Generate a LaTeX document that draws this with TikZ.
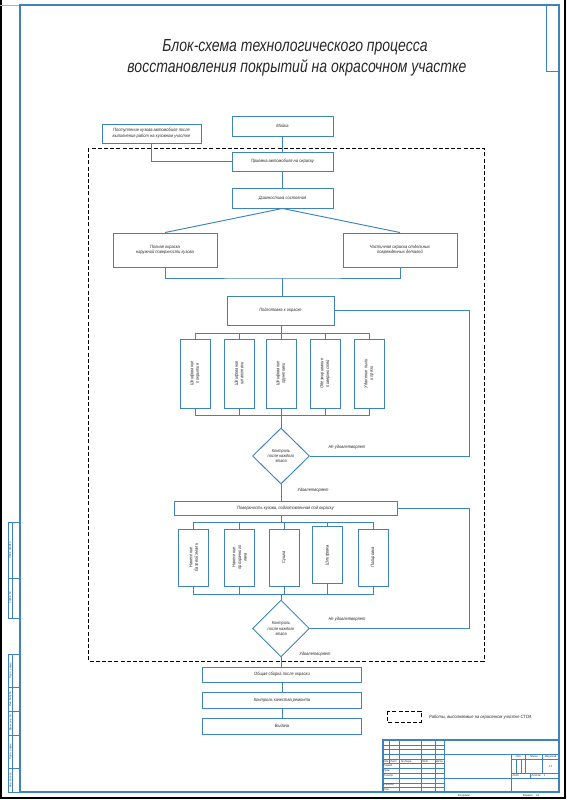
\documentclass[tikz,border=0pt]{standalone}
\usepackage{fontspec}
\setmainfont{Liberation Sans}
\newfontfamily\gost[FakeStretch=0.88]{Liberation Sans}
\newfontfamily\gostt[FakeStretch=0.8]{Liberation Sans}
\usetikzlibrary{shapes.geometric}
\definecolor{bl}{RGB}{62,132,188}
\definecolor{tx}{RGB}{40,40,40}
\tikzset{
  ln/.style={draw=bl, line width=0.95pt},
  box/.style={ln, rectangle, inner sep=0pt, align=center, text=tx,
     font=\gost\itshape\fontsize{4.6}{5.6}\selectfont},
  vbox/.style={box, minimum width=30pt},
  dia/.style={ln, diamond, inner sep=0pt, aspect=1, align=center, text=tx,
     font=\gost\itshape\fontsize{4.4}{5.2}\selectfont},
  lab/.style={inner sep=0pt, text=tx, font=\gost\itshape\fontsize{4.6}{5.6}\selectfont},
  vt/.style={rotate=90, align=center},
  thk/.style={draw=bl, line width=0.9pt},
  thn/.style={draw=bl, line width=0.45pt},
  stx/.style={inner sep=0pt, text=tx, font=\gost\itshape\fontsize{2.8}{3.2}\selectfont},
  dsh/.style={draw=black, line width=0.9pt, dash pattern=on 4pt off 2.2pt},
  ttl/.style={inner sep=0pt, text=tx, font=\gostt\itshape\fontsize{17.5}{20}\selectfont},
}
\begin{document}
\begin{tikzpicture}[x=1pt,y=-1pt]
\useasboundingbox (0,0) rectangle (566,800);
% sheet edges
\draw[black, line width=1.2pt] (1,0) -- (1,798) -- (565,798) -- (565,0);
\draw[gray!60, line width=0.5pt] (0,5) -- (20,5);
% frame
\draw[thk, line width=1.2pt] (20,5) rectangle (559,792);
\draw[thk] (546,5) rectangle (559,71);
% left stamps
\draw[thk] (8,522) rectangle (19,618);
\draw[thn] (8,578) -- (19,578) (12.5,522) -- (12.5,618);
\draw[thk] (8,654) rectangle (19,792);
\draw[thn] (8,687) -- (19,687) (8,711) -- (19,711) (8,735) -- (19,735) (8,768) -- (19,768) (12.5,654) -- (12.5,792);
\node[stx, rotate=90] (s1) at (10.3,550) {Перв. примен.};
\node[stx, rotate=90] (s2) at (10.3,598) {Справ. №};
\node[stx, rotate=90] (s3) at (10.3,670.5) {Подп. и дата};
\node[stx, rotate=90] (s4) at (10.3,699) {Инв. № дубл.};
\node[stx, rotate=90] (s5) at (10.3,723) {Взам. инв. №};
\node[stx, rotate=90] (s6) at (10.3,751.5) {Подп. и дата};
\node[stx, rotate=90] (s7) at (10.3,780) {Инв. № подл.};

% title
\node[ttl] (t1) at (295,47) {Блок-схема технологического процесса};
\node[ttl] (t2) at (297,68) {восстановления покрытий на окрасочном участке};

% dashed area
\draw[dsh] (88,148) rectangle (484,661);

% boxes
\node[box, minimum width=101pt, minimum height=20pt] (moika) at (282.5,126) {Мойка};
\node[box, minimum width=99pt, minimum height=19pt] (post) at (151.5,133.5) {Поступление кузова автомобиля после\\выполнения работ на кузовном участке};
\node[box, minimum width=101pt, minimum height=19pt] (priem) at (282.5,161.5) {Приемка автомобиля на окраску};
\node[box, minimum width=101pt, minimum height=20pt] (diag) at (282.5,198) {Диагностика состояния};
\node[box, minimum width=104pt, minimum height=34pt] (full) at (165,250) {Полная окраска\\наружной поверхности кузова};
\node[box, minimum width=114pt, minimum height=34pt] (part) at (400,250) {Частичная окраска отдельных\\поврежденных деталей};
\node[box, minimum width=107pt, minimum height=29pt] (podg) at (280.5,310.5) {Подготовка к окраске};

\node[vbox, minimum height=69pt] (v1) at (195,373.5) {};
\node[vbox, minimum height=69pt] (v2) at (239,373.5) {};
\node[vbox, minimum height=69pt] (v3) at (281,373.5) {};
\node[vbox, minimum height=69pt] (v4) at (325,373.5) {};
\node[vbox, minimum height=69pt] (v5) at (369,373.5) {};
\node[lab, vt] (v1t) at (v1) {Шлифование\\покрытия};
\node[lab, vt] (v2t) at (v2) {Шлифование\\шпатлевки};
\node[lab, vt] (v3t) at (v3) {Шлифование\\грунтовки};
\node[lab, vt] (v4t) at (v4) {Обезжиривание\\поверхностей};
\node[lab, vt] (v5t) at (v5) {Удаление пыли\\и грязи};

\node[dia, minimum width=57pt, minimum height=56pt] (k1) at (281,456) {Контроль\\после каждого\\этапа};

\node[box, minimum width=223pt, minimum height=14pt] (wide) at (285.5,508) {Поверхность кузова, подготовленная под окраску};

\node[vbox, minimum height=57pt] (w1) at (193.5,557.5) {};
\node[vbox, minimum height=57pt] (w2) at (239.5,557.5) {};
\node[vbox, minimum height=57pt] (w3) at (284,557.5) {};
\node[vbox, minimum height=57pt] (w4) at (327.5,555) {};
\node[vbox, minimum height=57pt] (w5) at (373,557.5) {};
\node[lab, vt] (w1t) at (w1) {Нанесение\\базовой эмали};
\node[lab, vt] (w2t) at (w2) {Нанесение\\прозрачного\\лака};
\node[lab, vt] (w3t) at (w3) {Сушка};
\node[lab, vt] (w4t) at (w4) {Шлифовка};
\node[lab, vt] (w5t) at (w5) {Полировка};

\node[dia, minimum width=57pt, minimum height=57pt] (k2) at (281,628.5) {Контроль\\после каждого\\этапа};

\node[box, minimum width=159pt, minimum height=15pt] (sb) at (282,674.5) {Общая сборка после окраски};
\node[box, minimum width=159pt, minimum height=16pt] (kk) at (282,700) {Контроль качества ремонта};
\node[box, minimum width=159pt, minimum height=16pt] (vyd) at (282,726) {Выдача};

% labels
\node[lab] (n1) at (347,447) {Не удовлетворяет};
\node[lab] (y1) at (313,490) {Удовлетворяет};
\node[lab] (n2) at (347,619) {Не удовлетворяет};
\node[lab] (y2) at (315,654) {Удовлетворяет};

% connectors
\coordinate (j1) at (282.5,278);
\coordinate (b1) at (281,333);
\coordinate (b2) at (281,415);
\coordinate (c1) at (281,522);
\coordinate (c2) at (281,594);
\coordinate (r1) at (469,0);
\draw[ln] (moika.south) -- (priem.north);
\draw[ln] (post.south) |- (priem.west);
\draw[ln] (priem.south) -- (diag.north);
\draw[ln] (diag.south) -- (full.north);
\draw[ln] (diag.south) -- (part.north);
\draw[ln] (full.south) |- (j1) -| (part.south);
\draw[ln] (j1) -- (j1 |- podg.north);
\draw[ln] (b1 |- podg.south) -- (b1);
\draw[ln] (v1.north) -- (v1.north |- b1) -- (v5.north |- b1) -- (v5.north);
\foreach \v in {v2,v3,v4} \draw[ln] (\v.north) -- (\v.north |- b1);
\draw[ln] (v1.south) -- (v1.south |- b2) -- (v5.south |- b2) -- (v5.south);
\foreach \v in {v2,v3,v4} \draw[ln] (\v.south) -- (\v.south |- b2);
\draw[ln] (b2) -- (k1.north);
\draw[ln] (k1.east) -| (r1 |- podg.east) -- (podg.east);
\draw[ln] (k1.south) -- (k1.south |- wide.north);
\draw[ln] (c1 |- wide.south) -- (c1);
\draw[ln] (w1.north) -- (w1.north |- c1) -- (w5.north |- c1) -- (w5.north);
\foreach \v in {w2,w3,w4} \draw[ln] (\v.north) -- (\v.north |- c1);
\draw[ln] (w1.south) -- (w1.south |- c2) -- (w5.south |- c2) -- (w5.south);
\foreach \v in {w2,w3,w4} \draw[ln] (\v.south) -- (\v.south |- c2);
\draw[ln] (c2) -- (k2.north);
\draw[ln] (k2.east) -| (r1 |- wide.east) -- (wide.east);
\draw[ln] (k2.south) -- (k2.south |- sb.north);
\draw[ln] (sb.south) -- (kk.north);
\draw[ln] (kk.south) -- (vyd.north);

% legend
\draw[dsh] (387,711) rectangle (421,722);
\node[lab, anchor=west] (leg) at (429,717) {Работы, выполняемые на окрасочном участке СТОА};

% title block
\foreach \k in {1,2,3,4,6,7,8,9,10} \draw[thn] (383,{740+\k*4.765}) -- (444.9,{740+\k*4.765});
\draw[thk] (383,763.8) -- (444.9,763.8) (383,759.1) -- (444.9,759.1);
\draw[thk] (389.7,740) -- (389.7,763.8);
\draw[thk] (399.2,740) -- (399.2,792);
\draw[thk] (421.1,740) -- (421.1,792);
\draw[thk] (435.4,740) -- (435.4,792);
\draw[thk] (444.9,740) -- (444.9,792);
\draw[thk] (444.9,754.3) -- (559,754.3);
\draw[thk] (511.6,754.3) -- (511.6,792);
\draw[thk] (444.9,778.1) -- (559,778.1);
\draw[thk] (511.6,759.1) -- (559,759.1) (511.6,773.4) -- (559,773.4);
\draw[thk] (525.9,754.3) -- (525.9,773.4) (542.1,754.3) -- (542.1,773.4);
\draw[thn] (516.4,759.1) -- (516.4,773.4) (521.1,759.1) -- (521.1,773.4);
\draw[thk] (530.7,773.4) -- (530.7,778.1);
\draw[thk, line width=1.1pt] (383,740) rectangle (559,792);
\node[stx, anchor=west] (h1) at (383.5,761.4) {Изм.};
\node[stx, anchor=west] (h2) at (390.2,761.4) {Лист};
\node[stx, anchor=west] (h3) at (401,761.4) {№ докум.};
\node[stx, anchor=west] (h4) at (422,761.4) {Подп.};
\node[stx, anchor=west] (h5) at (436,761.4) {Дата};
\node[stx, anchor=west] (r1t) at (383.5,766.2) {Разраб.};
\node[stx, anchor=west] (r2t) at (383.5,771) {Пров.};
\node[stx, anchor=west] (r3t) at (383.5,775.7) {Т.контр.};
\node[stx, anchor=west] (r5t) at (383.5,785.3) {Н.контр.};
\node[stx, anchor=west] (r6t) at (383.5,790) {Утв.};
\node[stx] (l1) at (518.7,756.7) {Лит.};
\node[stx] (l2) at (534,756.7) {Масса};
\node[stx] (l3) at (550.5,756.7) {Масштаб};
\node[stx] (l4) at (550.5,766.2) {1:1};
\node[stx, anchor=west] (l5) at (512.5,775.8) {Лист};
\node[stx, anchor=west] (l6) at (531.5,775.8) {Листов \quad 1};
\node[stx] (cp) at (464,796) {Копировал};
\node[stx] (fm) at (531,796) {Формат \quad А1};
\end{tikzpicture}
\end{document}
